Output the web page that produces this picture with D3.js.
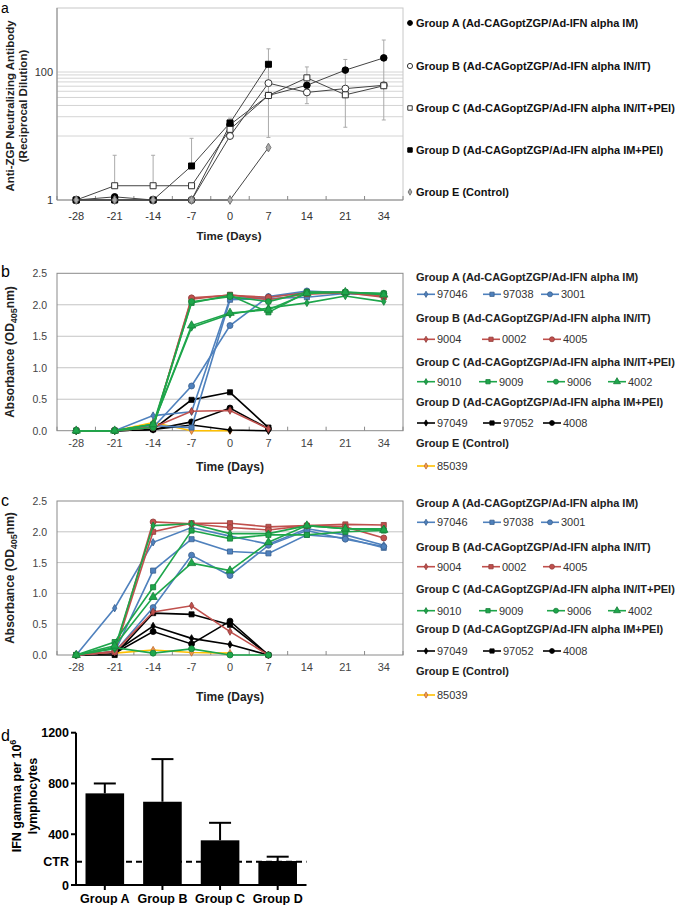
<!DOCTYPE html>
<html><head><meta charset="utf-8">
<script src="https://cdn.jsdelivr.net/npm/d3@7"></script>
<style>
body{margin:0;background:#fff;}
svg{display:block;font-family:"Liberation Sans",Arial,sans-serif;}
</style></head>
<body>
<svg id="chart" width="700" height="905"></svg>
<script>
// ---------- DATA ----------
const days = ["-28","-21","-14","-7","0","7","14","21","34"];

// Panel a: neutralizing antibody (reciprocal dilution), log scale
const aGroupA = [1, 1.12, 1, 1, 15, 43, 62, 107, 166];
const aGroupB = [1, 1, 1, 1, 10, 67, 48, 55, 62];
const aGroupC = [1, 1.67, 1.67, 1.67, 12.7, 43, 81, 44, 61];
const aGroupD = [1, 1, 1, 3.4, 16, 132, null, null, null];
const aGroupE = [1, 1, 1, 1, 1, 6.6, null, null, null];
const aErrLow  = [null, 1.67, 1.67, 3.4, 16, 9.5, 32, 13.7, 17.8];
const aErrHigh = [null, 5, 5, 9.2, 19, 230, 120, 157, 316];
const aLegend = ["Group A (Ad-CAGoptZGP/Ad-IFN alpha IM)","Group B (Ad-CAGoptZGP/Ad-IFN alpha IN/IT)","Group C (Ad-CAGoptZGP/Ad-IFN alpha IN/IT+PEI)","Group D (Ad-CAGoptZGP/Ad-IFN alpha IM+PEI)","Group E (Control)"];
const aYTicks = [1, 100];
const aGridVals = [10,20,30,40,50,60,70,80,90,100];

// Panel b: absorbance (OD405nm)
const b97046 = [0, 0, 0.24, 0.30, 2.10, 2.12, 2.20, 2.18, 2.15];
const b97038 = [0, 0, 0.08, 0.05, 2.08, 2.10, 2.12, 2.18, 2.16];
const b3001  = [0, 0, 0.05, 0.71, 1.67, 2.13, 2.22, 2.19, 2.17];
const b9004  = [0, 0, 0.05, 0.31, 0.32, 0.03, null, null, null];
const b0002  = [0, 0, 0.06, 2.09, 2.16, 2.08, 2.17, 2.19, 2.12];
const b4005  = [0, 0, 0.05, 2.11, 2.15, 2.12, 2.19, 2.20, 2.14];
const b9010  = [0, 0, 0.10, 1.64, 1.85, 1.95, 2.03, 2.14, 2.05];
const b9009  = [0, 0, 0.10, 2.03, 2.15, 1.88, 2.20, 2.20, 2.18];
const b9006  = [0, 0, 0.05, 2.05, 2.13, 2.05, 2.20, 2.20, 2.18];
const b4002  = [0, 0, 0.10, 1.67, 1.87, 1.92, 2.18, 2.20, 2.16];
const b97049 = [0, 0, 0.02, 0.09, 0.01, 0.0, null, null, null];
const b97052 = [0, 0, 0.02, 0.49, 0.61, 0.05, null, null, null];
const b4008  = [0, 0, 0.02, 0.14, 0.36, 0.03, null, null, null];
const b85039 = [0, 0, 0.13, 0.0, 0.0, null, null, null, null];

// Panel c: absorbance (OD405nm)
const c97046 = [0, 0.76, 1.83, 2.07, 1.93, 1.80, 2.05, 1.95, 1.78];
const c97038 = [0, 0.05, 1.37, 1.88, 1.68, 1.65, 1.95, 1.90, 1.74];
const c3001  = [0, 0.05, 0.77, 1.62, 1.29, 1.78, 2.02, 1.88, 1.76];
const c9004  = [0, 0.05, 0.70, 0.80, 0.38, 0.0, null, null, null];
const c0002  = [0, 0.05, 2.00, 2.14, 2.14, 2.08, 2.10, 2.12, 2.11];
const c4005  = [0, 0.05, 2.16, 2.13, 2.07, 2.03, 2.10, 2.08, 1.90];
const c9010  = [0, 0.10, 2.10, 2.13, 1.97, 1.97, 2.10, 2.05, 2.05];
const c9009  = [0, 0.21, 1.10, 2.02, 1.89, 1.95, 1.95, 2.00, 2.02];
const c9006  = [0, 0.12, 0.03, 0.10, 0.0, 0.0, null, null, null];
const c4002  = [0, 0.15, 0.94, 1.49, 1.37, 1.83, 2.10, 2.05, 2.03];
const c97049 = [0, 0.05, 0.47, 0.27, 0.17, 0.0, null, null, null];
const c97052 = [0, 0.0, 0.68, 0.66, 0.49, 0.0, null, null, null];
const c4008  = [0, 0.03, 0.38, 0.18, 0.55, 0.0, null, null, null];
const c85039 = [0, 0.03, 0.08, 0.04, 0.03, null, null, null, null];

const odTicks = [0, 0.5, 1.0, 1.5, 2.0, 2.5];
const groupHeaders = ["Group A (Ad-CAGoptZGP/Ad-IFN alpha IM)","Group B (Ad-CAGoptZGP/Ad-IFN alpha IN/IT)","Group C (Ad-CAGoptZGP/Ad-IFN alpha IN/IT+PEI)","Group D (Ad-CAGoptZGP/Ad-IFN alpha IM+PEI)","Group E (Control)"];
const animalIds = [["97046","97038","3001"],["9004","0002","4005"],["9010","9009","9006","4002"],["97049","97052","4008"],["85039"]];
const groupColors = ["#4f81bd","#c0504d","#1ea64b","#000000","#ffc000"];

// Panel d: IFN gamma
const dGroups = ["Group A","Group B","Group C","Group D"];
const dValues = [722, 656, 352, 189];
const dErrTop = [800, 992, 490, 223];
const dCtr = 184;
const dTicks = [0, 400, 800, 1200];

// ---------- DRAW ----------
const svg = d3.select("#chart");

function panelLetter(t, x, y, fs){
  svg.append("text").attr("x",x).attr("y",y).attr("font-size",fs||16).attr("fill","#000").text(t);
}

// ===== Panel a =====
(function(){
  const L=57, R=403, T=8, B=200;
  const x = d3.scaleBand().domain(days).range([L,R]);
  const y = d3.scaleLog().domain([1,1000]).range([B,T]);
  const g = svg.append("g");
  g.selectAll(".grid").data(aGridVals).join("line")
    .attr("x1",L).attr("x2",R).attr("y1",d=>y(d)).attr("y2",d=>y(d))
    .attr("stroke","#d4d4d4").attr("stroke-width",1);
  g.append("rect").attr("x",L).attr("y",T).attr("width",R-L).attr("height",B-T)
    .attr("fill","none").attr("stroke","#c8c8c8");
  g.append("line").attr("x1",L).attr("x2",L).attr("y1",T).attr("y2",B).attr("stroke","#888");
  g.append("line").attr("x1",L).attr("x2",R).attr("y1",B).attr("y2",B).attr("stroke","#888");
  const bounds = days.map(d=>x(d)).concat([R]);
  g.selectAll(".xt").data(bounds).join("line")
    .attr("x1",d=>d).attr("x2",d=>d).attr("y1",B).attr("y2",B-4).attr("stroke","#888");
  g.selectAll(".xl").data(days).join("text")
    .attr("x",d=>x(d)+x.bandwidth()/2).attr("y",B+20).attr("text-anchor","middle")
    .attr("font-size",11).attr("fill","#333").text(d=>d);
  g.append("text").attr("x",229).attr("y",240).attr("text-anchor","middle")
    .attr("font-size",11.5).attr("font-weight","bold").attr("fill","#222").text("Time (Days)");
  g.selectAll(".yl").data(aYTicks).join("text")
    .attr("x",L-4).attr("y",d=>y(d)+4).attr("text-anchor","end")
    .attr("font-size",11).attr("fill","#333").text(d=>d);
  const yt = g.append("text").attr("transform","translate(14,106) rotate(-90)")
    .attr("text-anchor","middle").attr("font-size",11.5).attr("font-weight","bold").attr("fill","#222");
  yt.append("tspan").attr("x",0).attr("y",0).text("Anti-ZGP Neutralizing Antibody");
  yt.append("tspan").attr("x",0).attr("y",13).text("(Reciprocal Dilution)");
  const eb = days.map((d,i)=>({d, lo:aErrLow[i], hi:aErrHigh[i]})).filter(e=>e.lo!=null);
  const cx = d=>x(d)+x.bandwidth()/2;
  g.selectAll(".eb").data(eb).join("line")
    .attr("x1",e=>cx(e.d)).attr("x2",e=>cx(e.d)).attr("y1",e=>y(e.lo)).attr("y2",e=>y(e.hi))
    .attr("stroke","#aaa").attr("stroke-width",1);
  g.selectAll(".ebc").data(eb).join("line")
    .attr("x1",e=>cx(e.d)-2).attr("x2",e=>cx(e.d)+2).attr("y1",e=>y(e.hi)).attr("y2",e=>y(e.hi))
    .attr("stroke","#aaa");
  g.selectAll(".ebc2").data(eb).join("line")
    .attr("x1",e=>cx(e.d)-2).attr("x2",e=>cx(e.d)+2).attr("y1",e=>y(e.lo)).attr("y2",e=>y(e.lo))
    .attr("stroke","#aaa");
  const series = [
    {v:aGroupA, shape:d3.symbolCircle, size:34, fill:"#000", stroke:"#000"},
    {v:aGroupB, shape:d3.symbolCircle, size:38, fill:"#fff", stroke:"#333"},
    {v:aGroupC, shape:d3.symbolSquare, size:36, fill:"#fff", stroke:"#333"},
    {v:aGroupD, shape:d3.symbolSquare, size:36, fill:"#000", stroke:"#000"},
    {v:aGroupE, shape:d3.symbolDiamond, size:22, fill:"#aaa", stroke:"#777"}
  ];
  const line = d3.line().defined(p=>p.v!=null).x(p=>cx(p.d)).y(p=>y(p.v));
  series.forEach(s=>{
    const pts = days.map((d,i)=>({d, v:s.v[i]}));
    g.append("path").datum(pts).attr("d",line).attr("fill","none").attr("stroke","#444").attr("stroke-width",1);
    g.selectAll(null).data(pts.filter(p=>p.v!=null)).join("path")
      .attr("d",d3.symbol(s.shape,s.size)).attr("transform",p=>`translate(${cx(p.d)},${y(p.v)})`)
      .attr("fill",s.fill).attr("stroke",s.stroke).attr("stroke-width",1);
  });
  const legY = [23, 66, 108, 150, 192];
  const lg = svg.append("g");
  series.forEach((s,i)=>{
    lg.append("path").attr("d",d3.symbol(s.shape, s.size*0.55)).attr("transform",`translate(410,${legY[i]})`)
      .attr("fill",s.fill).attr("stroke",s.stroke);
    lg.append("text").attr("x",416).attr("y",legY[i]+4).attr("font-size",11).attr("font-weight","bold")
      .attr("fill","#111").text(aLegend[i]);
  });
  panelLetter("a",1,13,14);
})();

// ===== Panels b & c =====
function odPanel(T, B, dataSets, headY, itemY, letter, letterY, titleY){
  const L=57, R=403;
  const x = d3.scaleBand().domain(days).range([L,R]);
  const y = d3.scaleLinear().domain([0,2.5]).range([B,T]);
  const cx = d=>x(d)+x.bandwidth()/2;
  const g = svg.append("g");
  g.selectAll(null).data(odTicks.slice(1,5)).join("line")
    .attr("x1",L).attr("x2",R).attr("y1",d=>y(d)).attr("y2",d=>y(d)).attr("stroke","#c4c4c4");
  g.append("rect").attr("x",L).attr("y",T).attr("width",R-L).attr("height",B-T)
    .attr("fill","none").attr("stroke","#8a8a8a");
  const bounds = days.map(d=>x(d)).concat([R]);
  g.selectAll(null).data(bounds).join("line")
    .attr("x1",d=>d).attr("x2",d=>d).attr("y1",B).attr("y2",B-4).attr("stroke","#8a8a8a");
  g.selectAll(null).data(days).join("text")
    .attr("x",d=>cx(d)).attr("y",B+16).attr("text-anchor","middle")
    .attr("font-size",11).attr("fill","#444").text(d=>d);
  g.selectAll(null).data(odTicks).join("text")
    .attr("x",47).attr("y",d=>y(d)+4).attr("text-anchor","end")
    .attr("font-size",10.5).attr("fill","#444").text(d=>d.toFixed(1));
  g.append("text").attr("x",230).attr("y",titleY).attr("text-anchor","middle")
    .attr("font-size",12).attr("font-weight","bold").attr("fill","#222").text("Time (Days)");
  const yt = g.append("text").attr("transform",`translate(14,${(T+B)/2}) rotate(-90)`)
    .attr("text-anchor","middle").attr("font-size",12).attr("font-weight","bold").attr("fill","#222");
  yt.append("tspan").text("Absorbance (OD");
  yt.append("tspan").attr("font-size",9).attr("dy",3).text("405");
  yt.append("tspan").attr("dy",-3).text("nm)");

  const shapes = [[d3.symbolDiamond,d3.symbolSquare,d3.symbolCircle],
                  [d3.symbolDiamond,d3.symbolSquare,d3.symbolCircle],
                  [d3.symbolDiamond,d3.symbolSquare,d3.symbolCircle,d3.symbolTriangle],
                  [d3.symbolDiamond,d3.symbolSquare,d3.symbolCircle],
                  [d3.symbolDiamond]];
  const sizes = new Map([[d3.symbolDiamond,16],[d3.symbolSquare,26],[d3.symbolCircle,28],[d3.symbolTriangle,30]]);
  const line = d3.line().defined(p=>p.v!=null).x(p=>cx(p.d)).y(p=>y(p.v));
  const order = [4,3,0,1,2];
  order.forEach(gi=>{
    dataSets[gi].forEach((vals,k)=>{
      const col = groupColors[gi];
      const mfill = gi===4 ? "#f79646" : col;
      const mstroke = gi===3 ? "#000" : d3.color(mfill).darker(0.8);
      const pts = days.map((d,i)=>({d, v:vals[i]}));
      g.append("path").datum(pts).attr("d",line).attr("fill","none").attr("stroke",col).attr("stroke-width",1.6);
      const sh = shapes[gi][k];
      g.selectAll(null).data(pts.filter(p=>p.v!=null)).join("path")
        .attr("d",d3.symbol(sh,sizes.get(sh))).attr("transform",p=>`translate(${cx(p.d)},${y(p.v)})`)
        .attr("fill",mfill).attr("stroke",mstroke).attr("stroke-width",0.8);
    });
  });
  const itemX = [[417,483,541],[417,482,543],[417,479,547,608],[417,483,543],[417]];
  const lg = svg.append("g");
  groupHeaders.forEach((h,gi)=>{
    lg.append("text").attr("x",416).attr("y",headY[gi]+4).attr("font-size",11).attr("font-weight","bold")
      .attr("fill","#222").text(h);
    animalIds[gi].forEach((id,k)=>{
      const x0 = itemX[gi][k], yy = itemY[gi];
      const col = groupColors[gi];
      const mfill = gi===4 ? "#f79646" : col;
      lg.append("line").attr("x1",x0).attr("x2",x0+18).attr("y1",yy).attr("y2",yy).attr("stroke",col).attr("stroke-width",1.6);
      const sh = shapes[gi][k];
      lg.append("path").attr("d",d3.symbol(sh,sizes.get(sh)*0.7)).attr("transform",`translate(${x0+9},${yy})`)
        .attr("fill",mfill).attr("stroke",gi===3?"#000":d3.color(mfill).darker(0.8)).attr("stroke-width",0.8);
      lg.append("text").attr("x",x0+20).attr("y",yy+4).attr("font-size",11).attr("fill","#333").text(id);
    });
  });
  panelLetter(letter,1,letterY);
}

odPanel(273.3, 430.7,
  [[b97046,b97038,b3001],[b9004,b0002,b4005],[b9010,b9009,b9006,b4002],[b97049,b97052,b4008],[b85039]],
  [276.7,318.3,361.7,401.7,443.3],[294.3,339.3,381.7,423,466],"b",277,471);
odPanel(501, 655,
  [[c97046,c97038,c3001],[c9004,c0002,c4005],[c9010,c9009,c9006,c4002],[c97049,c97052,c4008],[c85039]],
  [502.7,546.7,589,629.3,671],[522.3,566.7,610.7,651,695],"c",506,701);

// ===== Panel d =====
(function(){
  const L=76, R=306.5, T=732.7, B=885;
  const x = d3.scaleBand().domain(dGroups).range([L,R]).paddingInner(0.33).paddingOuter(0.165);
  const y = d3.scaleLinear().domain([0,1200]).range([B,T]);
  const g = svg.append("g");
  g.selectAll(null).data(dValues).join("rect")
    .attr("x",(d,i)=>x(dGroups[i])).attr("width",x.bandwidth())
    .attr("y",d=>y(d)).attr("height",d=>B-y(d)).attr("fill","#000");
  g.selectAll(null).data(dErrTop).join("line")
    .attr("x1",(d,i)=>x(dGroups[i])+x.bandwidth()/2).attr("x2",(d,i)=>x(dGroups[i])+x.bandwidth()/2)
    .attr("y1",(d,i)=>y(dValues[i])).attr("y2",d=>y(d)).attr("stroke","#000").attr("stroke-width",2);
  g.selectAll(null).data(dErrTop).join("line")
    .attr("x1",(d,i)=>x(dGroups[i])+x.bandwidth()/2-11).attr("x2",(d,i)=>x(dGroups[i])+x.bandwidth()/2+11)
    .attr("y1",d=>y(d)).attr("y2",d=>y(d)).attr("stroke","#000").attr("stroke-width",2);
  g.append("line").attr("x1",L).attr("x2",R).attr("y1",y(dCtr)).attr("y2",y(dCtr))
    .attr("stroke","#000").attr("stroke-width",2).attr("stroke-dasharray","6,4");
  g.append("line").attr("x1",L).attr("x2",L).attr("y1",T).attr("y2",B+1).attr("stroke","#000").attr("stroke-width",2);
  g.append("line").attr("x1",L-1).attr("x2",R).attr("y1",B).attr("y2",B).attr("stroke","#000").attr("stroke-width",2);
  g.selectAll(null).data(dTicks).join("line")
    .attr("x1",L-5).attr("x2",L).attr("y1",d=>y(d)).attr("y2",d=>y(d)).attr("stroke","#000").attr("stroke-width",2);
  g.selectAll(null).data(dGroups).join("line")
    .attr("x1",d=>x(d)+x.bandwidth()/2).attr("x2",d=>x(d)+x.bandwidth()/2)
    .attr("y1",B).attr("y2",B+5).attr("stroke","#000").attr("stroke-width",2);
  g.selectAll(null).data(dTicks).join("text")
    .attr("x",L-7).attr("y",d=>y(d)+4.5).attr("text-anchor","end").attr("font-size",12.5)
    .attr("font-weight","bold").text(d=>d);
  g.append("text").attr("x",L-7).attr("y",y(dCtr)+4.5).attr("text-anchor","end").attr("font-size",12.5)
    .attr("font-weight","bold").text("CTR");
  g.selectAll(null).data(dGroups).join("text")
    .attr("x",d=>x(d)+x.bandwidth()/2).attr("y",903).attr("text-anchor","middle")
    .attr("font-size",12.5).attr("font-weight","bold").text(d=>d);
  const yt = g.append("text").attr("transform","translate(21,796) rotate(-90)")
    .attr("text-anchor","middle").attr("font-size",12.5).attr("font-weight","bold");
  yt.append("tspan").attr("x",0).attr("y",0).text("IFN gamma per 10");
  yt.append("tspan").attr("font-size",9).attr("dy",-5).text("6");
  yt.append("tspan").attr("x",0).attr("y",16).text("lymphocytes");
  panelLetter("d",1,741);
})();
</script>
</body></html>
